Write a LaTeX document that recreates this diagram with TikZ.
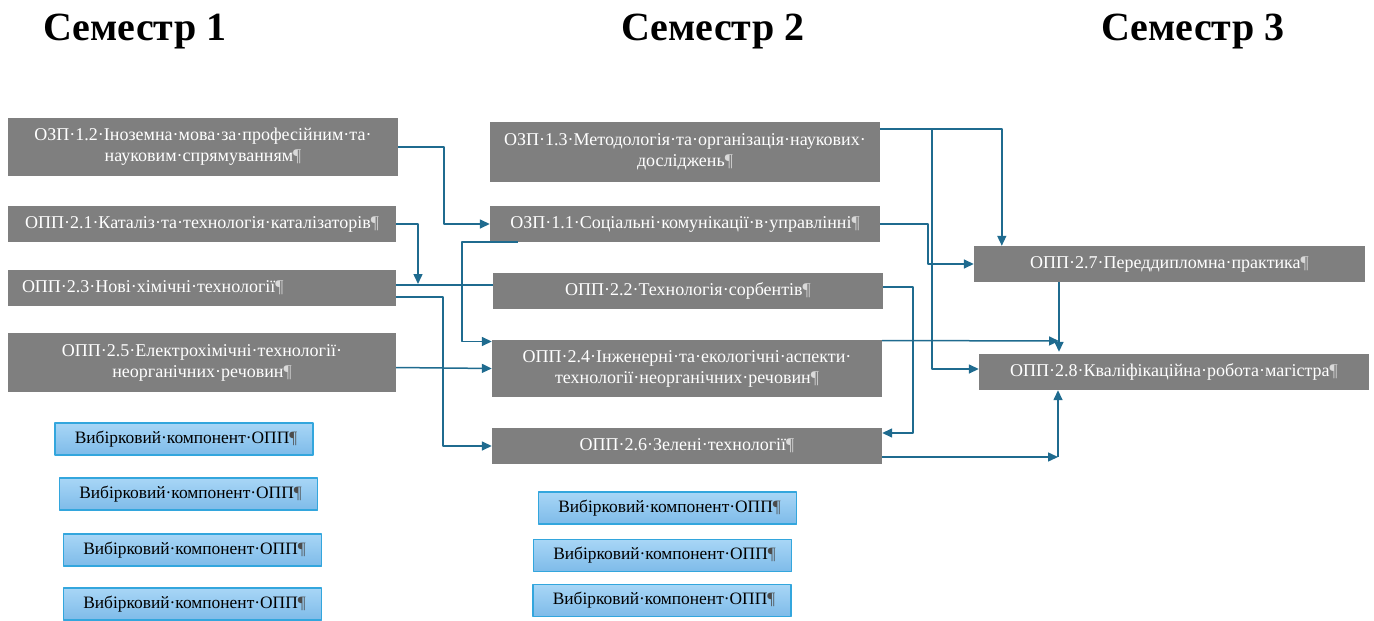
\documentclass[tikz,border=0pt]{standalone}
\usepackage{fontspec}
\setmainfont{Liberation Serif}
\usetikzlibrary{arrows.meta,calc}
\definecolor{boxgrey}{HTML}{7F7F7F}
\definecolor{linkblue}{HTML}{1F6B8F}
\definecolor{optfill}{HTML}{A8D6F6}
\definecolor{optfillb}{HTML}{7EBBE9}
\definecolor{optdraw}{HTML}{33A6DD}
\def\pw{\textcolor{black!15}{¶}}
\def\pb{\textcolor{black!70}{¶}}
\tikzset{
  gbox/.style={fill=boxgrey, text=white, inner sep=0pt, align=center,
    font=\fontsize{18}{21}\selectfont},
  obox/.style={top color=optfill, bottom color=optfillb, draw=optdraw, line width=1.2pt,
    minimum width=258, minimum height=32, inner sep=0pt, font=\fontsize{17.4}{21}\selectfont},
  sem/.style={font=\fontsize{40}{44}\selectfont\bfseries, anchor=base},
  link/.style={draw=linkblue, line width=1.5pt, -{Triangle[length=10pt,width=9pt]}}
}
\begin{document}
\begin{tikzpicture}[x=1pt, y=-1pt, line join=round]
\useasboundingbox (0,0) rectangle (1374,621);
% Заголовки семестрів
\node[sem] (s1) at (135,40) {Семестр 1};
\node[sem] (s2) at (713,40) {Семестр 2};
\node[sem] (s3) at (1193,40) {Семестр 3};
% Семестр 1
\node[gbox, minimum width=390, minimum height=58] (ozp12) at (203,147)
  {ОЗП·1.2·Іноземна·мова·за·професійним·та·\\науковим·спрямуванням\pw};
\node[gbox, minimum width=388, minimum height=36] (opp21) at (202,224)
  {ОПП·2.1·Каталіз·та·технологія·каталізаторів\pw};
\node[gbox, minimum width=388, minimum height=36, text width=360, align=left] (opp23) at (202,288)
  {ОПП·2.3·Нові·хімічні·технології\pw};
\node[gbox, minimum width=388, minimum height=59] (opp25) at (202,362.5)
  {ОПП·2.5·Електрохімічні·технології·\\неорганічних·речовин\pw};
\node[obox] (v1) at (184,439) {\hspace{4pt}Вибірковий·компонент·ОПП\pb};
\node[obox] (v2) at (188.5,494) {\hspace{4pt}Вибірковий·компонент·ОПП\pb};
\node[obox] (v3) at (192.5,550) {\hspace{4pt}Вибірковий·компонент·ОПП\pb};
\node[obox] (v4) at (192.5,604) {\hspace{4pt}Вибірковий·компонент·ОПП\pb};
% Семестр 2
\node[gbox, minimum width=390, minimum height=60] (ozp13) at (685,152)
  {ОЗП·1.3·Методологія·та·організація·наукових·\\досліджень\pw};
\node[gbox, minimum width=390, minimum height=36] (ozp11) at (685,224)
  {ОЗП·1.1·Соціальні·комунікації·в·управлінні\pw};
\node[gbox, minimum width=390, minimum height=36] (opp22) at (688,291)
  {ОПП·2.2·Технологія·сорбентів\pw};
\node[gbox, minimum width=390, minimum height=57] (opp24) at (687,368.5)
  {ОПП·2.4·Інженерні·та·екологічні·аспекти·\\технології·неорганічних·речовин\pw};
\node[gbox, minimum width=390, minimum height=36] (opp26) at (687,446)
  {ОПП·2.6·Зелені·технології\pw};
\node[obox] (v5) at (667.5,508) {\hspace{4pt}Вибірковий·компонент·ОПП\pb};
\node[obox] (v6) at (662.5,555.5) {\hspace{4pt}Вибірковий·компонент·ОПП\pb};
\node[obox] (v7) at (662,600.5) {\hspace{4pt}Вибірковий·компонент·ОПП\pb};
% Семестр 3
\node[gbox, minimum width=391, minimum height=36] (opp27) at (1169.5,264)
  {ОПП·2.7·Переддипломна·практика\pw};
\node[gbox, minimum width=390, minimum height=36] (opp28) at (1174,372)
  {ОПП·2.8·Кваліфікаційна·робота·магістра\pw};
% Точки злиття
\coordinate (j1) at (418,284);
\coordinate (j2) at (1059,341);
\coordinate (j3) at (1058,457);
% Зв'язки
\draw[link] (ozp12.east) -- ++(46,0) |- (ozp11.west);
\draw[link] (opp21.east) -| (j1);
\draw[draw=linkblue, line width=1.5pt] ($(opp23.east)+(0,-3)$) -- ($(opp22.west)+(0,-6)$);
\draw[link] ($(opp23.east)+(0,9)$) -- ++(47,0) |- (opp26.west);
\draw[link] ($(ozp11.south west)+(28,0)$) -- ++(-56,0) |- ($(opp24.west)+(0,-27)$);
\draw[link] ($(opp25.east)+(0,5)$) -- (opp24.west);
\draw[link] ($(ozp13.east)+(0,-23)$) -| ($(opp27.north west)+(28,0)$);
\draw[link] ($(ozp13.east)+(0,-23)$) -- ++(52,0) |- ($(opp28.west)+(0,-3)$);
\draw[link] (ozp11.east) -- ++(48,0) |- (opp27.west);
\draw[link] ($(opp22.east)+(0,-4)$) -- ++(30,0) |- ($(opp26.east)+(0,-13)$);
\draw[link] ($(opp24.east)+(0,-28)$) -- (j2);
\draw[link] (j2 |- opp27.south) -- ($(j2 |- opp28.north)+(0,-2)$);
\draw[link] ($(opp26.east)+(0,11)$) -- (j3);
\draw[link] (j3) -- (j3 |- opp28.south);
\end{tikzpicture}
\end{document}
